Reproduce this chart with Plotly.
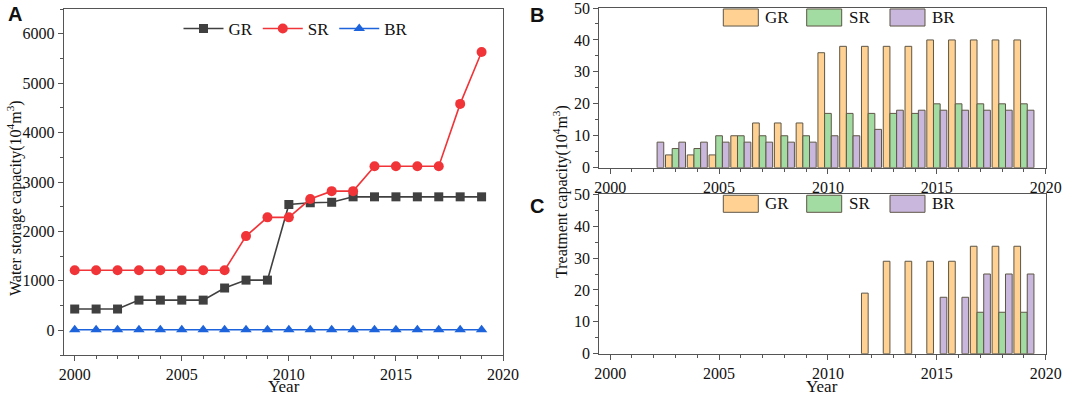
import plotly.graph_objects as go

years = list(range(2000, 2020))

# Panel A: water storage capacity (10^4 m^3)
a_gr = [430, 430, 430, 610, 610, 610, 610, 855, 1015, 1015,
        2545, 2580, 2590, 2700, 2700, 2700, 2700, 2700, 2700, 2700]
a_sr = [1215, 1215, 1215, 1215, 1215, 1215, 1215, 1215, 1905, 2285,
        2285, 2655, 2815, 2815, 3320, 3320, 3320, 3320, 4580, 5630]
a_br = [10] * 20

# Panel B: treatment capacity (10^4 m^3)
b_gr = [0, 0, 0, 4, 4, 4, 10, 14, 14, 14, 36, 38, 38, 38, 38, 40, 40, 40, 40, 40]
b_sr = [0, 0, 0, 6, 6, 10, 10, 10, 10, 10, 17, 17, 17, 17, 17, 20, 20, 20, 20, 20]
b_br = [0, 0, 8, 8, 8, 8, 8, 8, 8, 8, 10, 10, 12, 18, 18, 18, 18, 18, 18, 18]

# Panel C: treatment capacity (10^4 m^3)
c_gr = [0] * 12 + [19, 29, 29, 29, 29, 33.7, 33.7, 33.7]
c_sr = [0] * 17 + [13, 13, 13]
c_br = [0] * 15 + [17.7, 17.7, 25, 25, 25]

series_names = ["GR", "SR", "BR"]
line_colors = ["#404040", "#f03438", "#1c63dc"]
line_symbols = ["square", "circle", "triangle-up"]
bar_colors = ["#ffd294", "#a2dca2", "#c9b7dd"]
bar_edge = "#5e5646"

SERIF = "Liberation Serif, Times New Roman, serif"
SANS = "Liberation Sans, Arial, sans-serif"
AX = "#555555"

fig = go.Figure()

for name, vals, col, sym in zip(series_names, [a_gr, a_sr, a_br], line_colors, line_symbols):
    fig.add_trace(go.Scatter(
        x=years, y=vals, name=name, mode="lines+markers",
        line=dict(color=col, width=1.6),
        marker=dict(symbol=sym, size=10 if sym != "square" else 9, color=col,
                    line=dict(width=0)),
        xaxis="x", yaxis="y", legend="legend"))

def nz(v):
    return [None if x == 0 else x for x in v]

for (xa, ya), data in [(("x2", "y2"), [b_gr, b_sr, b_br]), (("x3", "y3"), [c_gr, c_sr, c_br])]:
    for name, vals, col in zip(series_names, data, bar_colors):
        fig.add_trace(go.Bar(
            x=years, y=nz(vals), name=name, showlegend=False,
            marker=dict(color=col, line=dict(color=bar_edge, width=1)),
            xaxis=xa, yaxis=ya, offsetgroup=name))

axis_common = dict(showline=True, linecolor=AX, linewidth=1.4, mirror=True,
                   ticks="outside", ticklen=5, tickwidth=1.2, tickcolor=AX,
                   showgrid=False, zeroline=False, automargin=False,
                   ticklabeloverflow="allow",
                   tickfont=dict(family=SERIF, size=16, color="#111"))

xdom_a = [64 / 1072, 503 / 1072]
xdom_bc = [599.3 / 1072, 1045.7 / 1072]

fig.update_layout(
    width=1072, height=395,
    margin=dict(l=0, r=0, t=0, b=0, autoexpand=False),
    paper_bgcolor="white", plot_bgcolor="white",
    barmode="group", bargap=0.08, bargroupgap=0,
    xaxis=dict(domain=xdom_a, range=[1999.5, 2020], tick0=2000, dtick=5,
               minor=dict(dtick=1, ticks="outside", ticklen=3, tickcolor=AX),
               anchor="y", **axis_common),
    yaxis=dict(domain=[1 - 355 / 395, 1 - 9 / 395], range=[-500, 6500], dtick=1000,
               minor=dict(dtick=500, ticks="outside", ticklen=3, tickcolor=AX),
               anchor="x", **axis_common),
    xaxis2=dict(domain=xdom_bc, range=[1999.5, 2020], tick0=2000, dtick=5,
                minor=dict(dtick=1, ticks="outside", ticklen=3, tickcolor=AX),
                anchor="y2", **axis_common),
    yaxis2=dict(domain=[1 - 167.7 / 395, 1 - 8 / 395], range=[0, 50], dtick=10,
                minor=dict(dtick=5, ticks="outside", ticklen=3, tickcolor=AX),
                anchor="x2", **axis_common),
    xaxis3=dict(domain=xdom_bc, range=[1999.5, 2020], tick0=2000, dtick=5,
                minor=dict(dtick=1, ticks="outside", ticklen=3, tickcolor=AX),
                anchor="y3", **axis_common),
    yaxis3=dict(domain=[1 - 353.7 / 395, 1 - 194.3 / 395], range=[0, 50], dtick=10,
                minor=dict(dtick=5, ticks="outside", ticklen=3, tickcolor=AX),
                anchor="x3", **axis_common),
    legend=dict(orientation="h", x=296 / 1072, xanchor="center", y=1 - 11 / 395,
                yanchor="top", bgcolor="rgba(0,0,0,0)",
                font=dict(family=SERIF, size=17, color="#111"),
                itemwidth=40, tracegroupgap=0),
    showlegend=True,
)

annotations = []
shapes = []

def ann(text, x, y, size=16, family=SERIF, angle=0, xanchor="center"):
    return dict(text=text, textangle=angle, xref="paper", yref="paper",
                x=x / 1072, y=1 - y / 395, xanchor=xanchor, yanchor="middle",
                showarrow=False, font=dict(family=family, size=size, color="#111"))

# Axis titles
annotations.append(ann("Water storage capacity(10<sup>4</sup>m<sup>3</sup>)", 14, 198, angle=-90))
annotations.append(ann("Treatment capacity(10<sup>4</sup>m<sup>3</sup>)", 561, 192, angle=-90))
annotations.append(ann("Year", 284, 386.5, size=17))
annotations.append(ann("Year", 822, 386.5, size=17))
# Panel letters
for lbl, px, py in [("A", 15, 14), ("B", 537, 15), ("C", 537, 206)]:
    annotations.append(ann("<b>%s</b>" % lbl, px, py, size=20, family=SANS))

# Custom bar legends for B and C
sw = [(0.2778, 0.3562, 0.3674), (0.4646, 0.5430, 0.5543), (0.6512, 0.7296, 0.7400)]
for xa, ya in [("x2", "y2"), ("x3", "y3")]:
    for (x0, x1, xt), name, col in zip(sw, series_names, bar_colors):
        shapes.append(dict(type="rect", xref=xa + " domain", yref=ya + " domain",
                           x0=x0, x1=x1, y0=0.887, y1=0.994, fillcolor=col,
                           line=dict(color=bar_edge, width=1)))
        annotations.append(dict(text=name, xref=xa + " domain", yref=ya + " domain",
                                x=xt, y=0.94, xanchor="left", yanchor="middle",
                                showarrow=False, font=dict(family=SERIF, size=17, color="#111")))

fig.update_layout(annotations=annotations, shapes=shapes)
fig.write_html("out.html", config={"displayModeBar": False},
               post_script="document.body.style.margin='0';document.body.style.padding='0';")
